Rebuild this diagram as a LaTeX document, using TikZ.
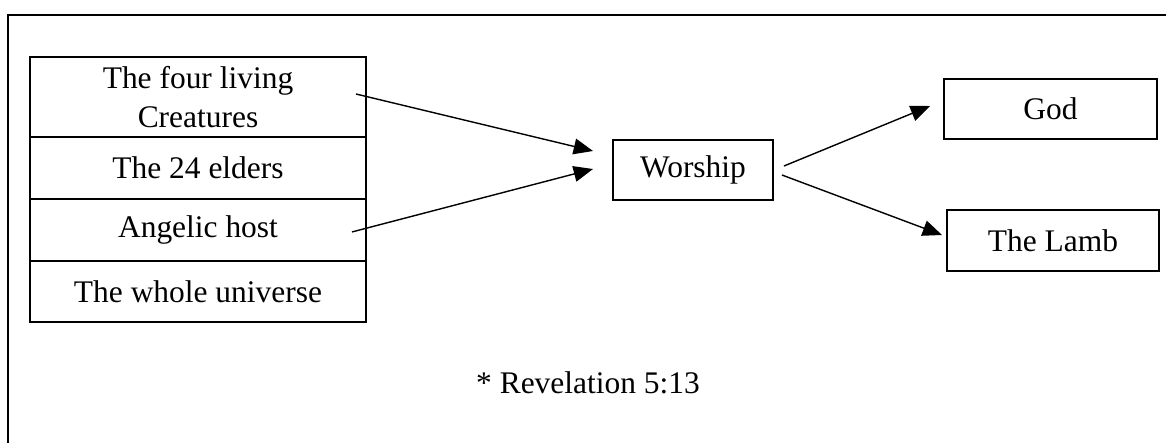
\documentclass[tikz,border=0pt]{standalone}
\usepackage{fontspec}
\setmainfont{Liberation Serif}
\usetikzlibrary {arrows.meta}
\usetikzlibrary {positioning}

\tikzset{
  frame/.style = {line width=1pt},
  cell/.style = {draw, line width=0.95pt, outer sep=0pt, inner sep=0pt,
    minimum width=6.72cm, minimum height=1.24cm, align=center},
  target/.style = {draw, line width=0.95pt, outer sep=0pt, inner sep=0pt,
    minimum height=1.2cm},
  link/.style = {arrows = {-Triangle[length=11pt, width=9pt]}, line width=0.8pt}
}

\begin{document}
\begin{tikzpicture}[x=0.02cm, y=-0.02cm, font=\fontsize{17.9}{22.5}\selectfont]
        \useasboundingbox (0, 0) rectangle (1166, 443);

        % page frame
        \draw [frame] (1166, 15) -- (8, 15) -- (8, 443);

        % who worships
        \node [cell, minimum height=1.6cm, anchor=north] (creatures) at (198, 57) {The four living\\Creatures};
        \node [cell, below=0pt of creatures] (elders) {The 24 elders};
        \node [cell, below=0pt of elders] (angels) {Angelic host};
        \node [cell, below=0pt of angels, minimum height=1.22cm] (universe) {The whole universe};

        % worship and whom
        \node [target, minimum width=3.2cm] (worship) at (693, 170) {Worship};
        \node [target, minimum width=4.26cm, minimum height=1.2cm] (god) at (1050.5, 109) {God};
        \node [target, minimum width=4.24cm, minimum height=1.22cm] (lamb) at (1053, 240.5) {The Lamb};

        \draw [link] ([xshift=-0.2cm, yshift=0.06cm]creatures.east) -- ([xshift=-0.4cm, yshift=0.38cm]worship.west);
        \draw [link] ([xshift=-0.28cm, yshift=-0.04cm]angels.east) -- ([xshift=-0.4cm, yshift=0.02cm]worship.west);
        \draw [link] ([xshift=0.22cm, yshift=0.08cm]worship.east) -- ([xshift=-0.28cm, yshift=0.06cm]god.west);
        \draw [link] ([xshift=0.18cm, yshift=-0.1cm]worship.east) -- ([xshift=-0.1cm, yshift=0.11cm]lamb.west);

        \node (verse) at (588, 383) {* Revelation 5:13};
      \end{tikzpicture}
\end{document}
